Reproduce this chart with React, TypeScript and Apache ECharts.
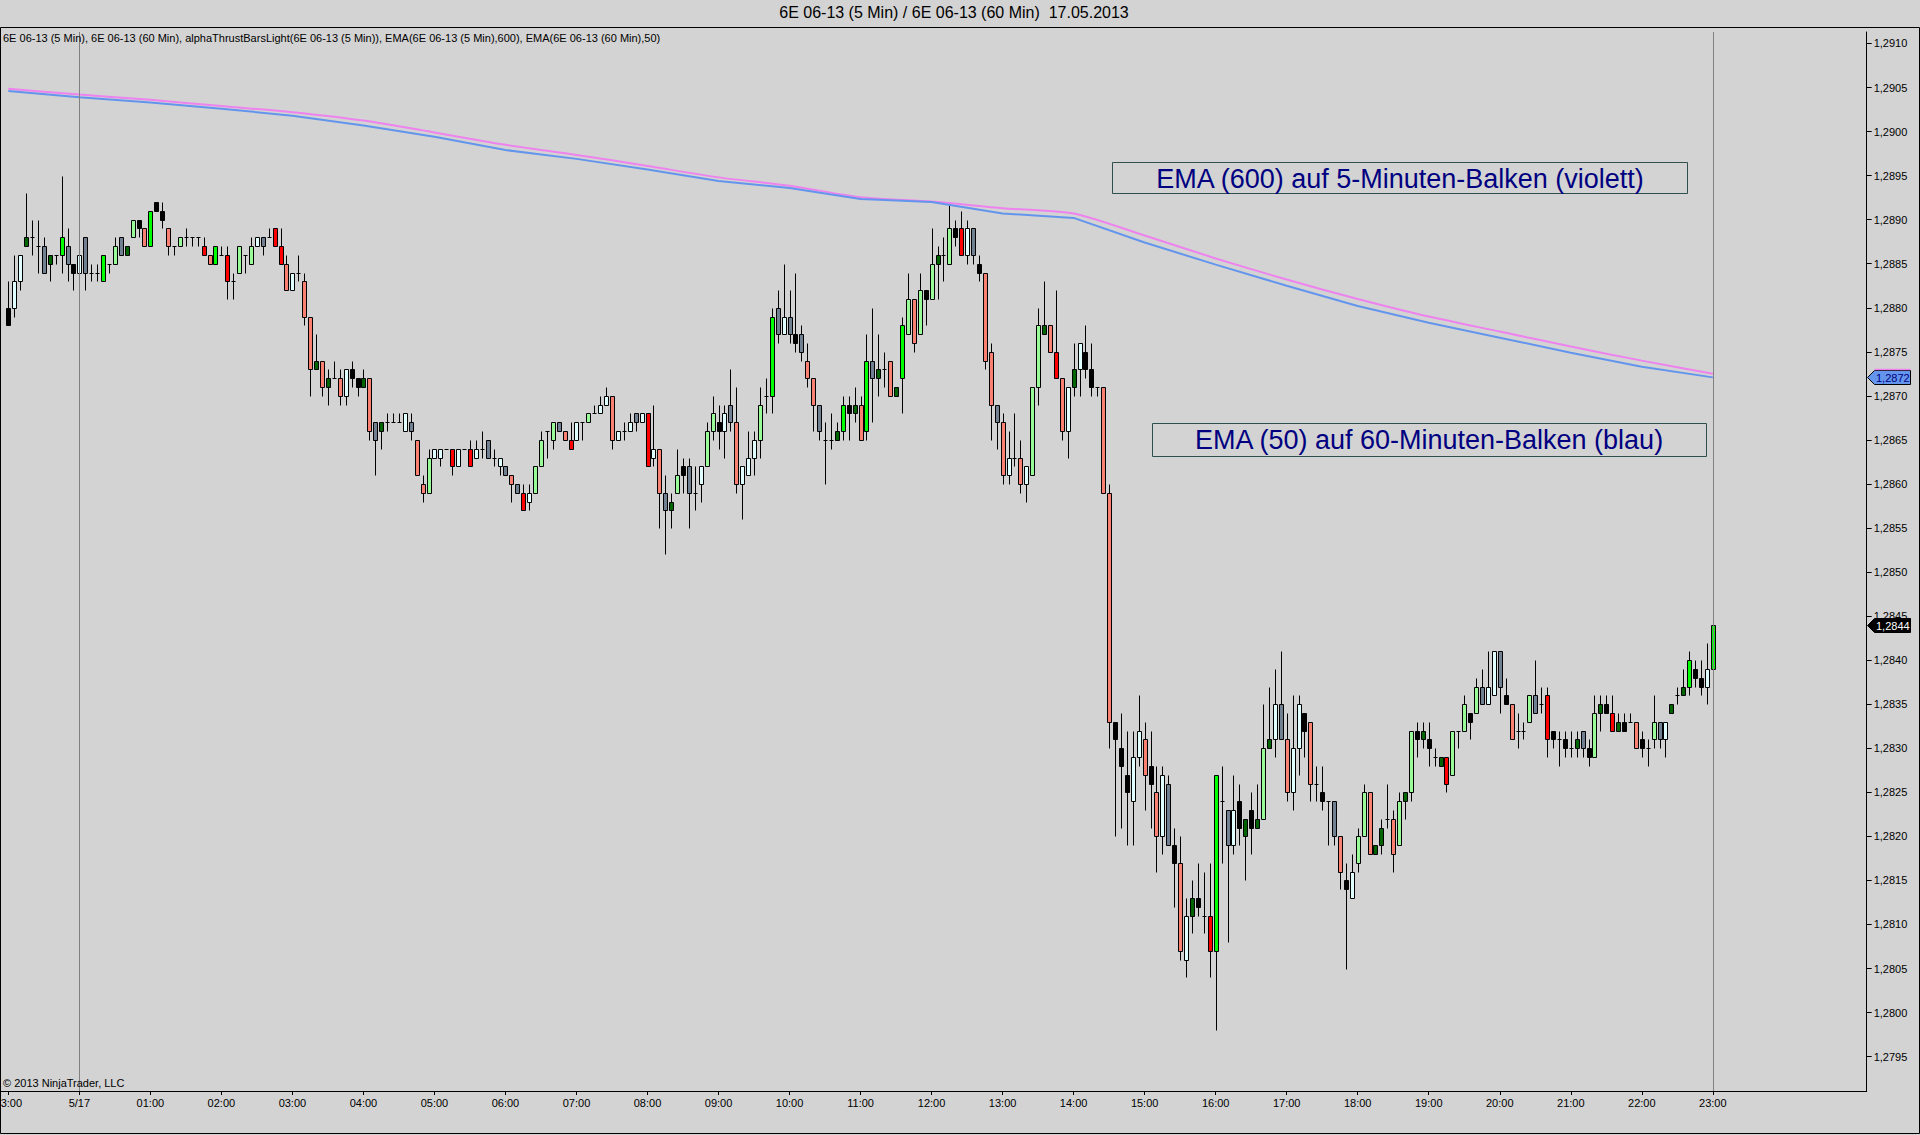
import React, { useEffect, useRef } from "react";
import * as echarts from "echarts";

// Prices are stored as pips (0.0001) above BASE.
const BASE = 1.28;
const PIP = 0.0001;
const BARS_PER_HOUR = 12;

const hourLabels = ["23:00", "5/17", "01:00", "02:00", "03:00", "04:00", "05:00", "06:00", "07:00", "08:00", "09:00", "10:00", "11:00", "12:00", "13:00", "14:00", "15:00", "16:00", "17:00", "18:00", "19:00", "20:00", "21:00", "22:00", "23:00"];

const yTicks = [1.2795, 1.28, 1.2805, 1.281, 1.2815, 1.282, 1.2825, 1.283, 1.2835, 1.284, 1.2845, 1.285, 1.2855, 1.286, 1.2865, 1.287, 1.2875, 1.288, 1.2885, 1.289, 1.2895, 1.29, 1.2905, 1.291];

const opens = [
  80, 80, 83, 87, 88, 87, 87, 85, 86, 86, 87, 85,
  84, 88, 84, 84, 83, 85, 85, 88, 86, 88, 90, 89,
  87, 92, 91, 89, 87, 87, 88, 88, 88, 87, 86, 85,
  86, 86, 83, 84, 86, 85, 87, 88, 88, 89, 87, 85,
  82, 84, 83, 79, 73, 74, 71, 72, 72, 70, 73, 72,
  71, 72, 67, 66, 67, 67, 67, 66, 67, 65, 60, 59,
  63, 63, 64, 64, 62, 64, 64, 63, 64, 65, 63, 62,
  62, 61, 60, 59, 58, 59, 62, 66, 65, 67, 66, 65,
  65, 67, 67, 68, 68, 69, 70, 65, 66, 66, 68, 67,
  68, 63, 64, 59, 57, 59, 62, 62, 59, 60, 62, 66,
  67, 66, 69, 67, 60, 61, 63, 65, 70, 70, 80, 77,
  79, 77, 77, 74, 72, 69, 65, 65, 65, 66, 69, 68,
  69, 66, 74, 72, 73, 74, 70, 72, 77, 81, 77, 82,
  81, 85, 86, 85, 89, 89, 86, 89, 85, 84, 75, 69,
  67, 61, 63, 63, 60, 61, 71, 77, 78, 75, 72, 66,
  71, 73, 75, 73, 71, 71, 59, 33, 30, 27, 24, 29,
  31, 28, 25, 20, 26, 19, 17, 6, 11, 13, 11, 11,
  7, 24, 23, 19, 24, 20, 23, 21, 22, 30, 31, 35,
  31, 25, 30, 34, 33, 26, 25, 24, 24, 20, 15, 13,
  17, 20, 25, 18, 19, 22, 22, 19, 24, 25, 32, 31,
  31, 29, 28, 29, 27, 32, 32, 34, 34, 37, 35, 36,
  41, 36, 35, 32, 32, 33, 36, 35, 36, 32, 31, 31,
  30, 30, 32, 30, 29, 34, 35, 34, 32, 33, 33, 33,
  31, 30, 31, 33, 31, 34, 36, 36, 37, 39, 38, 37,
  39,
];

const highs = [
  83, 86, 86, 93, 90, 90, 88, 86, 86, 95, 89, 85,
  87, 88, 85, 85, 86, 85, 88, 88, 87, 90, 90, 89,
  91, 92, 92, 89, 87, 88, 89, 88, 88, 88, 86, 87,
  87, 87, 84, 87, 86, 88, 88, 88, 89, 89, 89, 86,
  84, 86, 84, 79, 77, 74, 73, 74, 73, 73, 74, 72,
  73, 72, 67, 67, 68, 68, 68, 68, 68, 65, 61, 64,
  64, 64, 64, 64, 64, 64, 65, 65, 66, 65, 64, 63,
  62, 61, 60, 60, 60, 62, 66, 66, 67, 67, 66, 67,
  67, 67, 68, 69, 70, 71, 70, 66, 67, 68, 68, 68,
  68, 69, 64, 61, 59, 64, 63, 63, 62, 62, 67, 70,
  69, 69, 73, 71, 62, 66, 66, 71, 72, 80, 82, 85,
  82, 84, 78, 76, 72, 69, 67, 68, 67, 70, 70, 71,
  70, 77, 80, 77, 75, 74, 71, 79, 84, 81, 84, 82,
  89, 87, 88, 92, 90, 91, 90, 89, 86, 84, 76, 69,
  68, 66, 68, 65, 62, 71, 80, 83, 78, 82, 72, 71,
  76, 76, 78, 76, 71, 71, 60, 33, 34, 32, 32, 36,
  33, 32, 28, 28, 27, 21, 20, 13, 15, 17, 16, 17,
  27, 28, 23, 27, 26, 22, 25, 26, 35, 37, 39, 41,
  34, 36, 36, 34, 33, 28, 28, 24, 24, 20, 17, 18,
  21, 26, 25, 19, 22, 26, 23, 25, 25, 32, 33, 33,
  33, 30, 29, 29, 32, 32, 36, 34, 38, 39, 41, 41,
  41, 38, 35, 34, 33, 36, 40, 37, 37, 32, 32, 32,
  32, 32, 32, 31, 36, 36, 36, 36, 34, 34, 34, 33,
  32, 31, 36, 33, 33, 35, 37, 39, 41, 40, 40, 42,
  44,
];

const lows = [
  78, 79, 82, 87, 86, 84, 84, 83, 85, 84, 83, 82,
  81, 82, 83, 83, 83, 84, 85, 86, 86, 88, 88, 87,
  87, 91, 89, 86, 86, 87, 87, 87, 87, 86, 85, 85,
  86, 81, 81, 84, 84, 85, 87, 86, 88, 87, 85, 82,
  82, 83, 78, 70, 73, 70, 69, 72, 69, 69, 71, 70,
  71, 65, 61, 64, 66, 67, 67, 66, 65, 61, 58, 59,
  63, 62, 64, 61, 62, 64, 62, 63, 63, 63, 62, 61,
  61, 58, 59, 57, 57, 59, 62, 63, 64, 66, 65, 64,
  65, 65, 67, 68, 68, 69, 64, 65, 65, 66, 66, 67,
  62, 62, 55, 52, 55, 59, 59, 55, 57, 58, 62, 65,
  64, 63, 66, 59, 56, 61, 61, 63, 68, 68, 76, 77,
  76, 75, 74, 71, 66, 65, 60, 64, 65, 65, 65, 67,
  65, 65, 67, 70, 71, 70, 70, 68, 77, 75, 77, 78,
  81, 81, 83, 85, 87, 86, 85, 85, 83, 73, 65, 64,
  60, 60, 62, 59, 58, 61, 69, 77, 75, 72, 65, 63,
  70, 70, 72, 70, 70, 59, 30, 20, 21, 19, 19, 28,
  23, 21, 16, 18, 19, 12, 6, 4, 9, 11, 9, 4,
  -2, 17, 8, 18, 19, 15, 18, 21, 22, 30, 29, 31,
  24, 23, 27, 29, 24, 24, 23, 19, 19, 14, 5, 13,
  16, 20, 18, 18, 18, 21, 16, 19, 22, 24, 29, 30,
  28, 28, 28, 25, 27, 30, 32, 31, 34, 35, 35, 36,
  34, 35, 31, 30, 31, 33, 34, 34, 29, 30, 28, 29,
  29, 29, 29, 28, 29, 32, 34, 32, 32, 32, 33, 30,
  29, 28, 30, 30, 29, 34, 35, 36, 36, 37, 36, 35,
  35,
];

const closes = [
  78, 83, 86, 88, 88, 87, 84, 86, 86, 88, 85, 84,
  86, 84, 84, 84, 86, 85, 87, 86, 87, 90, 89, 87,
  91, 91, 90, 87, 87, 88, 88, 88, 88, 86, 85, 87,
  86, 83, 83, 87, 86, 87, 88, 87, 88, 87, 85, 82,
  84, 84, 79, 73, 74, 71, 72, 72, 70, 73, 72, 71,
  72, 66, 65, 67, 67, 67, 67, 68, 66, 61, 59, 63,
  64, 64, 64, 62, 64, 64, 62, 64, 64, 63, 63, 63,
  61, 60, 59, 57, 59, 62, 65, 66, 67, 66, 65, 64,
  67, 67, 68, 68, 69, 70, 65, 66, 66, 67, 67, 68,
  62, 64, 59, 57, 58, 61, 61, 59, 59, 62, 66, 68,
  66, 68, 67, 60, 62, 63, 65, 69, 70, 79, 77, 79,
  77, 76, 75, 72, 69, 66, 65, 65, 66, 69, 68, 69,
  65, 74, 72, 73, 73, 70, 71, 78, 81, 76, 82, 81,
  85, 86, 86, 89, 88, 86, 89, 86, 84, 74, 69, 67,
  61, 63, 63, 60, 62, 71, 78, 78, 75, 72, 66, 71,
  73, 76, 73, 71, 71, 59, 33, 31, 28, 25, 29, 32,
  27, 26, 20, 27, 19, 17, 7, 11, 13, 12, 11, 7,
  27, 24, 19, 23, 21, 22, 21, 22, 30, 31, 35, 31,
  25, 30, 35, 32, 26, 26, 24, 24, 20, 16, 14, 16,
  20, 25, 18, 19, 21, 22, 18, 24, 25, 32, 31, 32,
  30, 29, 29, 26, 32, 32, 35, 33, 37, 35, 37, 41,
  37, 35, 31, 32, 32, 36, 34, 35, 31, 31, 31, 30,
  30, 31, 30, 29, 34, 35, 34, 32, 33, 32, 33, 30,
  30, 30, 33, 31, 33, 35, 36, 37, 40, 38, 37, 39,
  44,
];

// L lime, P palegreen, D darkgreen, R red, S salmon, K black, G slategray, C lightcyan, X doji
const barColors = (
  "K C C D X X G D X L G K " +
  "C G X X L X P G D P K S " +
  "L K K S X P X X X R S L " +
  "X R X P X P C G X R R S " +
  "C X S S D S D X S C K K " +
  "D S G D X X X C G S S P " +
  "C C X R C X R C X G X C " +
  "G S G R C P P X P G S R " +
  "C X P X C C S C X C G C " +
  "R C S G D P K G X C P P " +
  "K C G S C C C P X L G C " +
  "G K G S S G X X D L K D " +
  "S L G D X S D L P S P K " +
  "P D X P K R C G K S S G " +
  "S C X S C P P D S R S C " +
  "D C K K X S S K K K C C " +
  "S K S C G K S C D K X R " +
  "L X G C K D K D P D C G " +
  "S C C K S X K X G S K C " +
  "P P S D D X S P D P K D " +
  "K X D R P X P K P G C C " +
  "G K S X X P G X R K X K " +
  "X D G K P D K R D K X S " +
  "K X P G C D X D L K K C " +
  "L"
).split(" ");

// Hourly EMA readings (pips above BASE)
const emaViolet600 = [104.85, 104.2, 103.6, 102.9, 102.2, 101.25, 99.9, 98.5, 97.35, 96.1, 94.8, 93.85, 92.55, 92.05, 91.3, 90.7, 88.2, 85.6, 83.2, 81.0, 79.0, 77.3, 75.6, 74.0, 72.5];
const emaBlue50 = [104.6, 103.9, 103.3, 102.6, 101.8, 100.7, 99.4, 97.9, 96.9, 95.7, 94.4, 93.6, 92.35, 92.0, 90.7, 90.2, 87.4, 84.9, 82.5, 80.2, 78.3, 76.6, 74.9, 73.3, 72.1];

const palette: Record<string, string> = {
  L: "#00FF00",
  P: "#98FB98",
  D: "#006400",
  R: "#FF0000",
  S: "#FA8072",
  K: "#000000",
  G: "#708090",
  C: "#E0FFFF",
  X: "#000000",
};
const codeOrder = "LPDRSKGCX";

const FONT = "'Liberation Sans', Arial, sans-serif";
const BG = "#D3D3D3";
const fmtPrice = (v: number) => v.toFixed(4).replace(".", ",");
const toPrice = (q: number) => BASE + q * PIP;

export default function App() {
  const ref = useRef<HTMLDivElement>(null);

  useEffect(() => {
    document.body.style.margin = "0";
    document.body.style.background = BG;
    const chart = echarts.init(ref.current as HTMLDivElement, null, { renderer: "svg" });

    const candleData = opens.map((o, i) => [
      i,
      toPrice(o),
      toPrice(closes[i]),
      toPrice(lows[i]),
      toPrice(highs[i]),
      codeOrder.indexOf(barColors[i]),
    ]);
    const hourIdx = hourLabels.map((_, k) => k * BARS_PER_HOUR);
    const violetData = emaViolet600.map((q, k) => [k * BARS_PER_HOUR, toPrice(q)]);
    const blueData = emaBlue50.map((q, k) => [k * BARS_PER_HOUR, toPrice(q)]);

    const option: any = {
      animation: false,
      backgroundColor: BG,
      textStyle: { fontFamily: FONT },
      grid: {
        left: 2.4,
        right: 53.3,
        top: 32,
        bottom: 44,
        containLabel: false,
        outerBoundsMode: "none",
      },
      xAxis: {
        type: "value",
        min: -1,
        max: 314,
        axisLine: { show: true, onZero: false, lineStyle: { color: "#000", width: 1 } },
        axisTick: { show: true, customValues: hourIdx, length: 4, lineStyle: { color: "#000" } },
        axisLabel: {
          show: true,
          customValues: hourIdx,
          formatter: (v: number) => hourLabels[Math.round(v / BARS_PER_HOUR)] ?? "",
          fontSize: 11,
          color: "#000",
          margin: 6,
          fontFamily: FONT,
          hideOverlap: false,
        },
        splitLine: { show: false },
      },
      yAxis: {
        type: "value",
        position: "right",
        min: 1.27911,
        max: 1.29113,
        axisLine: { show: true, onZero: false, lineStyle: { color: "#000", width: 1 } },
        axisTick: { show: true, customValues: yTicks, length: 5, lineStyle: { color: "#000" } },
        axisLabel: {
          show: true,
          customValues: yTicks,
          formatter: (v: number) => fmtPrice(v),
          fontSize: 11,
          color: "#000",
          margin: 7,
          fontFamily: FONT,
        },
        splitLine: { show: false },
      },
      series: [
        {
          type: "line",
          name: "separators",
          data: [],
          z: 1,
          silent: true,
          markLine: {
            silent: true,
            symbol: ["none", "none"],
            label: { show: false },
            lineStyle: { color: "#808080", width: 1, type: "solid" },
            data: [{ xAxis: 12 }, { xAxis: 288 }],
          },
        },
        {
          type: "custom",
          name: "bars",
          z: 2,
          silent: true,
          data: candleData,
          encode: { x: 0, y: [1, 2, 3, 4] },
          renderItem: (params: any, api: any) => {
            const i = api.value(0);
            const o = api.value(1);
            const c = api.value(2);
            const lo = api.value(3);
            const hi = api.value(4);
            const ci = api.value(5);
            const code = codeOrder[ci];
            const pO = api.coord([i, o]);
            const pC = api.coord([i, c]);
            const pL = api.coord([i, lo]);
            const pH = api.coord([i, hi]);
            const band = api.size([1, 0])[0];
            const bw = Math.max(2, Math.round(band * 0.68));
            const left = Math.round(pO[0] - bw / 2) + 0.5;
            const cx = left + bw / 2;
            const yTop = Math.round(Math.min(pO[1], pC[1])) + 0.5;
            const yBot = Math.round(Math.max(pO[1], pC[1])) + 0.5;
            const children: any[] = [
              {
                type: "line",
                shape: { x1: cx, y1: Math.round(pH[1]) + 0.5, x2: cx, y2: Math.round(pL[1]) + 0.5 },
                style: { stroke: "#000", lineWidth: 1 },
              },
            ];
            if (code === "X" || yBot - yTop < 1) {
              children.push({
                type: "line",
                shape: { x1: left, y1: yTop, x2: left + bw, y2: yTop },
                style: { stroke: "#000", lineWidth: 1 },
              });
            } else {
              children.push({
                type: "rect",
                shape: { x: left, y: yTop, width: bw, height: yBot - yTop },
                style: { fill: palette[code], stroke: "#000", lineWidth: 1 },
              });
            }
            return { type: "group", children };
          },
        },
        {
          type: "line",
          name: "EMA600",
          z: 3,
          silent: true,
          data: violetData,
          showSymbol: false,
          smooth: 0.25,
          lineStyle: { color: "#EE82EE", width: 2 },
        },
        {
          type: "line",
          name: "EMA50",
          z: 4,
          silent: true,
          data: blueData,
          showSymbol: false,
          lineStyle: { color: "#6495ED", width: 2 },
        },
      ],
    };

    chart.setOption(option);

    const lastBlue = toPrice(emaBlue50[emaBlue50.length - 1]);
    const lastClose = toPrice(closes[closes.length - 1]);
    const yBlue = Math.round(chart.convertToPixel({ yAxisIndex: 0 }, lastBlue) as number) + 0.5;
    const yClose = Math.round(chart.convertToPixel({ yAxisIndex: 0 }, lastClose) as number) + 0.5;

    const x0 = 1867.5;
    const x1 = 1910.5;
    const flag = (y: number) => [
      [x0, y],
      [x0 + 7, y - 7],
      [x1, y - 7],
      [x1, y + 7],
      [x0 + 7, y + 7],
    ];

    const graphic: any[] = [
      {
        type: "rect",
        silent: true,
        z: 100,
        shape: { x: 0.5, y: 27.5, width: 1919, height: 1106 },
        style: { fill: "rgba(0,0,0,0)", stroke: "#000", lineWidth: 1 },
      },
      {
        type: "line",
        silent: true,
        z: 100,
        shape: { x1: 0, y1: 1091.5, x2: 3, y2: 1091.5 },
        style: { stroke: "#000", lineWidth: 1 },
      },
      {
        type: "text",
        silent: true,
        z: 100,
        x: 954,
        y: 12.5,
        style: {
          text: "6E 06-13 (5 Min) / 6E 06-13 (60 Min)  17.05.2013",
          fontSize: 16,
          fontFamily: FONT,
          fill: "#000",
          align: "center",
          verticalAlign: "middle",
        },
      },
      {
        type: "text",
        silent: true,
        z: 100,
        x: 3,
        y: 38,
        style: {
          text: "6E 06-13 (5 Min), 6E 06-13 (60 Min), alphaThrustBarsLight(6E 06-13 (5 Min)), EMA(6E 06-13 (5 Min),600), EMA(6E 06-13 (60 Min),50)",
          fontSize: 11,
          fontFamily: FONT,
          fill: "#000",
          align: "left",
          verticalAlign: "middle",
        },
      },
      {
        type: "text",
        silent: true,
        z: 100,
        x: 3,
        y: 1083,
        style: {
          text: "© 2013 NinjaTrader, LLC",
          fontSize: 11,
          fontFamily: FONT,
          fill: "#000",
          align: "left",
          verticalAlign: "middle",
        },
      },
      {
        type: "rect",
        silent: true,
        z: 100,
        shape: { x: 1112.5, y: 162.5, width: 575, height: 31 },
        style: { fill: "rgba(0,0,0,0)", stroke: "#2F4F4F", lineWidth: 1 },
      },
      {
        type: "text",
        silent: true,
        z: 100,
        x: 1400,
        y: 178.5,
        style: {
          text: "EMA (600) auf 5-Minuten-Balken (violett)",
          fontSize: 27,
          fontFamily: FONT,
          fill: "#000080",
          align: "center",
          verticalAlign: "middle",
        },
      },
      {
        type: "rect",
        silent: true,
        z: 100,
        shape: { x: 1152.5, y: 423.5, width: 554, height: 33 },
        style: { fill: "rgba(0,0,0,0)", stroke: "#2F4F4F", lineWidth: 1 },
      },
      {
        type: "text",
        silent: true,
        z: 100,
        x: 1429,
        y: 440,
        style: {
          text: "EMA (50) auf 60-Minuten-Balken (blau)",
          fontSize: 27,
          fontFamily: FONT,
          fill: "#000080",
          align: "center",
          verticalAlign: "middle",
        },
      },
      {
        type: "polygon",
        silent: true,
        z: 102,
        shape: { points: flag(yBlue) },
        style: { fill: "#6495ED", stroke: "#000", lineWidth: 1 },
      },
      {
        type: "line",
        silent: true,
        z: 103,
        shape: { x1: x0 + 7, y1: yBlue - 8, x2: x1, y2: yBlue - 8 },
        style: { stroke: "#EE82EE", lineWidth: 1.5 },
      },
      {
        type: "text",
        silent: true,
        z: 103,
        x: 1876,
        y: yBlue,
        style: {
          text: fmtPrice(lastBlue),
          fontSize: 11,
          fontFamily: FONT,
          fill: "#000080",
          align: "left",
          verticalAlign: "middle",
        },
      },
      {
        type: "polygon",
        silent: true,
        z: 102,
        shape: { points: flag(yClose) },
        style: { fill: "#000", stroke: "#000", lineWidth: 1 },
      },
      {
        type: "text",
        silent: true,
        z: 103,
        x: 1876,
        y: yClose,
        style: {
          text: fmtPrice(lastClose),
          fontSize: 11,
          fontFamily: FONT,
          fill: "#FFF",
          align: "left",
          verticalAlign: "middle",
        },
      },
    ];

    chart.setOption({ graphic });

    return () => {
      chart.dispose();
    };
  }, []);

  return <div ref={ref} style={{ width: 1920, height: 1135 }} />;
}
